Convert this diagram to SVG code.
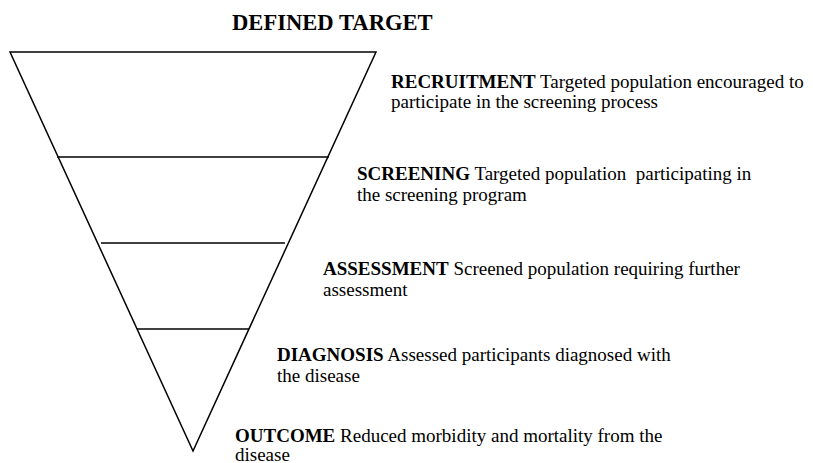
<svg xmlns="http://www.w3.org/2000/svg" width="813" height="463" viewBox="0 0 813 463">
  <style>
    text { font-family: 'Liberation Serif', 'DejaVu Serif', serif; fill: #000; }
    .t { font-size: 19px; white-space: pre; }
    .b { font-weight: bold; }
    .title { font-size: 22.6px; font-weight: bold; }
    .ln { stroke: #000; stroke-width: 1.5; fill: none; }
  </style>
  <rect width="813" height="463" fill="#fff"/>
  <text id="title" class="title" x="232" y="30">DEFINED TARGET</text>
  <g id="funnel">
    <polygon class="ln" points="10,52 376,52 193,451"/>
    <line class="ln" x1="57" y1="157" x2="329" y2="157"/>
    <line class="ln" x1="101" y1="243" x2="285" y2="243"/>
    <line class="ln" x1="137" y1="329" x2="249" y2="329"/>
  </g>
  <g id="recruitment">
    <text class="t" x="391" y="88"><tspan class="b">RECRUITMENT</tspan> Targeted population encouraged to</text>
    <text class="t" x="391" y="108">participate in the screening process</text>
  </g>
  <g id="screening">
    <text class="t" x="357" y="180"><tspan class="b">SCREENING</tspan> Targeted population  participating in</text>
    <text class="t" x="357" y="201">the screening program</text>
  </g>
  <g id="assessment">
    <text class="t" x="323" y="275"><tspan class="b">ASSESSMENT</tspan> Screened population requiring further</text>
    <text class="t" x="323" y="296">assessment</text>
  </g>
  <g id="diagnosis">
    <text class="t" x="277" y="361"><tspan class="b">DIAGNOSIS</tspan> Assessed participants diagnosed with</text>
    <text class="t" x="277" y="382">the disease</text>
  </g>
  <g id="outcome">
    <text class="t" x="235" y="442"><tspan class="b">OUTCOME</tspan> Reduced morbidity and mortality from the</text>
    <text class="t" x="235" y="461">disease</text>
  </g>
</svg>
